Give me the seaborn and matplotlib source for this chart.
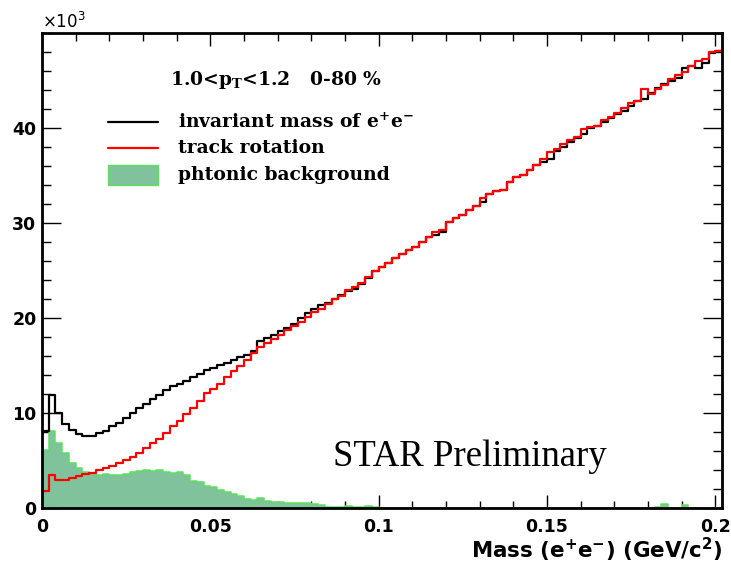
import numpy as np
import pandas as pd
import matplotlib
matplotlib.use("Agg")
import matplotlib.pyplot as plt
import seaborn as sns
from matplotlib.ticker import MultipleLocator, FuncFormatter, FixedLocator
from matplotlib.lines import Line2D
from matplotlib.patches import Rectangle

# ---------------- data (counts per 0.002 GeV/c^2 bin, in units of 10^3) ----------------
bin_width = 0.002
n_bins = 101

invariant_mass = [
    8.1, 11.9, 10.0, 8.8, 8.2, 7.8, 7.6, 7.6, 7.9, 8.1,
    8.6, 9.0, 9.5, 10.0, 10.5, 11.0, 11.5, 11.9, 12.4, 12.8,
    13.1, 13.4, 13.8, 14.1, 14.5, 14.7, 15.1, 15.3, 15.6, 15.9,
    16.1, 16.5, 17.6, 17.9, 18.2, 18.6, 19.0, 19.4, 20.0, 20.5,
    20.9, 21.4, 21.6, 22.0, 22.4, 22.8, 23.1, 23.6, 24.2, 24.9,
    25.4, 25.8, 26.3, 26.7, 27.2, 27.5, 28.0, 28.5, 28.7, 29.1,
    30.1, 30.5, 30.8, 31.4, 31.8, 32.2, 33.1, 33.4, 33.5, 34.3,
    34.8, 35.1, 35.6, 36.1, 36.4, 36.7, 37.6, 38.0, 38.5, 38.9,
    39.4, 40.0, 40.2, 40.6, 41.1, 41.5, 41.8, 42.3, 42.8, 43.1,
    43.7, 44.2, 44.6, 44.9, 45.3, 46.3, 46.5, 46.3, 46.8, 47.9,
    48.1,
]

track_rotation = [
    1.8, 3.5, 3.0, 3.0, 3.2, 3.4, 3.6, 3.7, 4.0, 4.2,
    4.4, 4.7, 5.1, 5.4, 5.8, 6.3, 6.8, 7.3, 7.9, 8.6,
    9.2, 9.9, 10.5, 11.3, 12.1, 12.5, 13.1, 13.8, 14.4, 14.9,
    15.6, 16.3, 17.0, 17.4, 17.8, 18.2, 18.7, 19.2, 19.6, 20.1,
    20.6, 21.0, 21.5, 22.0, 22.3, 22.9, 23.3, 23.7, 24.3, 24.9,
    25.4, 25.8, 26.3, 26.7, 27.2, 27.5, 28.0, 28.5, 29.1, 29.3,
    30.1, 30.5, 30.8, 31.4, 31.8, 32.6, 33.1, 33.4, 33.5, 34.3,
    34.8, 35.1, 35.6, 36.1, 36.7, 37.5, 37.8, 38.3, 38.7, 39.0,
    39.9, 40.1, 40.2, 40.8, 41.2, 41.6, 42.1, 42.6, 42.8, 44.1,
    43.6, 44.1, 44.5, 45.2, 45.6, 45.9, 46.5, 47.0, 47.3, 48.0,
    48.1,
]

photonic_bg = [
    6.1, 8.1, 6.8, 5.8, 4.7, 4.2, 3.8, 3.6, 3.5, 3.6,
    3.5, 3.5, 3.6, 3.8, 3.9, 4.0, 3.9, 4.0, 3.8, 3.7,
    3.8, 3.5, 2.8, 2.7, 2.3, 2.2, 1.9, 1.7, 1.5, 1.3,
    0.9, 0.85, 1.1, 0.75, 0.65, 0.65, 0.55, 0.5, 0.5, 0.55,
    0.4, 0.3, 0.15, 0.15, 0.1, 0.2, 0.1, 0.15, 0.2, 0.15,
    0.05, 0.05, 0.05, 0.0, 0.05, 0.0, 0.0, 0.05, 0.0, 0.0,
    0.0, 0.0, 0.0, 0.0, 0.0, 0.0, 0.0, 0.0, 0.0, 0.0,
    0.0, 0.0, 0.0, 0.0, 0.0, 0.0, 0.0, 0.0, 0.0, 0.0,
    0.0, 0.0, 0.0, 0.0, 0.0, 0.0, 0.0, 0.0, 0.0, 0.0,
    0.0, 0.15, 0.4, 0.05, 0.0, 0.35, 0.05, 0.0, 0.0, 0.0,
    0.0,
]

legend_labels = ["invariant mass of e$^{+}$e$^{-}$", "track rotation", "phtonic background"]
header_text = "1.0<p$_{T}$<1.2   0-80 %"
x_ticks = [0, 0.05, 0.1, 0.15, 0.2]
x_tick_labels = ["0", "0.05", "0.1", "0.15", "0.2"]
y_ticks = [0, 10000, 20000, 30000, 40000]
y_tick_labels = ["0", "10", "20", "30", "40"]

# ---------------- figure ----------------
sns.set_style("white")
plt.rcParams["mathtext.default"] = "regular"
plt.rcParams["text.color"] = "black"
plt.rcParams["xtick.color"] = "black"
plt.rcParams["ytick.color"] = "black"
plt.rcParams["axes.labelcolor"] = "black"

W, H = 731, 575
fig = plt.figure(figsize=(W / 100, H / 100), dpi=100)
ax = fig.add_axes([42 / W, 67 / H, 680 / W, 475 / H])

edges = (np.arange(n_bins + 1) * bin_width).tolist()
centers = [e + bin_width / 2 for e in edges[:-1]]
df = pd.DataFrame({
    "mass": centers,
    "data": np.array(invariant_mass) * 1000,
    "rot": np.array(track_rotation) * 1000,
    "phot": np.array(photonic_bg) * 1000,
})

GREEN_FILL = "#80c29c"
GREEN_EDGE = "#5ee05e"

sns.histplot(data=df, x="mass", weights="phot", bins=edges, element="step",
             fill=True, color=GREEN_FILL, linewidth=1.2, alpha=1, ax=ax)
for coll in ax.collections:
    coll.set_facecolor(GREEN_FILL)
    coll.set_edgecolor(GREEN_EDGE)
    coll.set_linewidth(1.1)
sns.histplot(data=df, x="mass", weights="data", bins=edges, element="step",
             fill=False, color="black", linewidth=1.6, ax=ax)
sns.histplot(data=df, x="mass", weights="rot", bins=edges, element="step",
             fill=False, color="#ff0000", linewidth=1.6, ax=ax)

ax.set_xlim(0, 0.202)
ax.set_ylim(0, 50000)
ax.set_xlabel("")
ax.set_ylabel("")

tick_font = dict(family="DejaVu Sans", weight="bold", size=12.5, color="black")
ax.set_xticks(x_ticks)
ax.set_xticklabels(x_tick_labels, fontdict=tick_font)
ax.set_yticks(y_ticks)
ax.set_yticklabels(y_tick_labels, fontdict=tick_font)
ax.xaxis.set_minor_locator(MultipleLocator(0.01))
ax.yaxis.set_minor_locator(MultipleLocator(2000))
ax.tick_params(axis="y", which="major", direction="in", length=13.7, width=1.0,
               left=True, right=True, pad=4)
ax.tick_params(axis="y", which="minor", direction="in", length=6.8, width=1.0,
               left=True, right=True)
ax.tick_params(axis="x", which="major", direction="in", length=9.4, width=1.0,
               bottom=True, top=True, pad=7)
ax.tick_params(axis="x", which="minor", direction="in", length=5.4, width=1.0,
               bottom=True, top=True)

for s in ax.spines.values():
    s.set_visible(True)
    s.set_color("black")
    s.set_linewidth(2.0)

# x axis title
fig.text(722 / W, 1 - 550 / H, "Mass (e$^{+}$e$^{-}$) (GeV/c$^{2}$)", ha="right",
         va="center", family="DejaVu Sans", weight="bold", size=15.4, color="black")
# exponent
fig.text(42 / W, 1 - 28 / H, "×10$^{3}$", ha="left", va="baseline",
         family="DejaVu Sans", size=12, color="black")

# header + legend
serif = dict(family="DejaVu Serif", weight="bold", size=13.5, color="black")
fig.text(170 / W, 1 - 80 / H, header_text, ha="left", va="center", **serif)
rows = [122, 148, 175]
fig.add_artist(Line2D([108 / W, 158 / W], [1 - rows[0] / H] * 2, color="black",
                      lw=1.6, transform=fig.transFigure))
fig.add_artist(Line2D([108 / W, 158 / W], [1 - rows[1] / H] * 2, color="#ff0000",
                      lw=1.6, transform=fig.transFigure))
fig.add_artist(Rectangle((108 / W, 1 - 185 / H), 50 / W, 20 / H, facecolor=GREEN_FILL,
                         edgecolor=GREEN_EDGE, lw=1.0, transform=fig.transFigure))
for r, lab in zip(rows, legend_labels):
    fig.text(178 / W, 1 - r / H, lab, ha="left", va="center", **serif)

# STAR Preliminary
fig.text(333 / W, 1 - 466 / H, "STAR Preliminary", ha="left", va="baseline",
         family="Liberation Serif", size=26.5, color="black")

fig.savefig("out.png", dpi=100)
